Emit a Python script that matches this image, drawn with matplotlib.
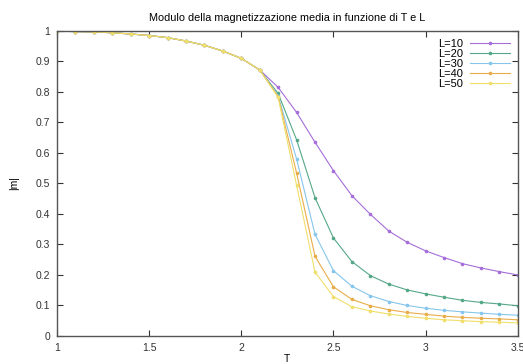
import matplotlib
matplotlib.use("Agg")
import matplotlib.pyplot as plt
from matplotlib.ticker import FormatStrFormatter, MultipleLocator
import numpy as np

plt.rcParams["font.family"] = ["Liberation Sans", "DejaVu Sans"]

# temperature grid (step 0.1)
T = [1.0, 1.1, 1.2, 1.3, 1.4, 1.5, 1.6, 1.7, 1.8, 1.9, 2.0, 2.1,
     2.2, 2.3, 2.4, 2.5, 2.6, 2.7, 2.8, 2.9, 3.0, 3.1, 3.2, 3.3, 3.4, 3.5]

# low-temperature part, shared by every L
low_T = [0.999, 0.998, 0.997, 0.994, 0.990, 0.985, 0.978, 0.967, 0.953, 0.934, 0.910, 0.872]

m_L10 = low_T + [0.815, 0.733, 0.635, 0.542, 0.460, 0.399, 0.344, 0.307, 0.279, 0.257, 0.237, 0.223, 0.211, 0.200]
m_L20 = low_T + [0.795, 0.643, 0.453, 0.321, 0.244, 0.198, 0.170, 0.151, 0.138, 0.127, 0.117, 0.110, 0.105, 0.099]
m_L30 = low_T + [0.788, 0.580, 0.333, 0.214, 0.163, 0.132, 0.113, 0.100, 0.091, 0.084, 0.079, 0.075, 0.071, 0.068]
m_L40 = low_T + [0.785, 0.534, 0.261, 0.161, 0.120, 0.099, 0.086, 0.077, 0.071, 0.065, 0.061, 0.058, 0.056, 0.053]
m_L50 = low_T + [0.782, 0.494, 0.209, 0.129, 0.096, 0.082, 0.072, 0.064, 0.058, 0.053, 0.050, 0.047, 0.045, 0.043]

labels = ["L=10", "L=20", "L=30", "L=40", "L=50"]
series = [m_L10, m_L20, m_L30, m_L40, m_L50]
colors = ["#a56ed8", "#55a887", "#86c6ec", "#e8ad4a", "#f0df6a"]

fig = plt.figure(figsize=(5.23, 3.64), dpi=100)
ax = fig.add_axes([0.109, 0.077, 0.881, 0.838])

for lab, m, c in zip(labels, series, colors):
    ax.plot(T, m, color=c, lw=0.8, marker="o", ms=1.6, mec=c, mfc=c, label=lab)

ax.set_xlim(1, 3.5)
ax.set_ylim(0, 1)
ax.xaxis.set_major_locator(MultipleLocator(0.5))
ax.yaxis.set_major_locator(MultipleLocator(0.1))
ax.xaxis.set_major_formatter(FormatStrFormatter("%g"))
ax.yaxis.set_major_formatter(FormatStrFormatter("%g"))
ax.tick_params(direction="in", top=True, right=True, length=4, width=0.8,
               labelsize=7.5, colors="#333333", pad=5)
for s in ax.spines.values():
    s.set_color("#555555")
    s.set_linewidth(1.0)

ax.set_title("Modulo della magnetizzazione media in funzione di T e L", fontsize=7.8, pad=7)
ax.set_xlabel("T", fontsize=7.5, labelpad=1)
ax.set_ylabel("|m|", fontsize=7.5, labelpad=12)

ax.legend(loc="upper right", fontsize=8, frameon=False, markerfirst=False,
          handlelength=3.6, handletextpad=0.6, labelspacing=0.0,
          borderaxespad=0.3, numpoints=1)

fig.savefig("out.png", dpi=100)
